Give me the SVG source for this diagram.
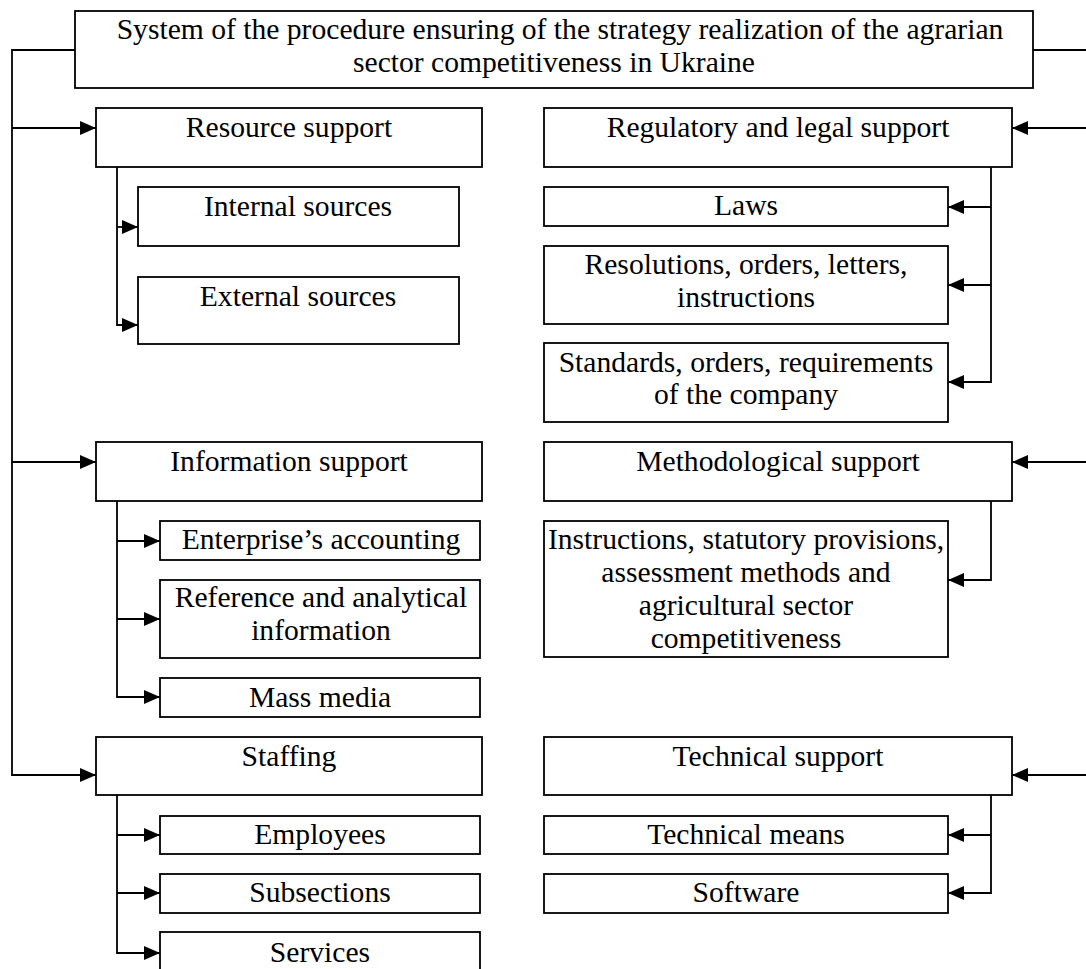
<svg xmlns="http://www.w3.org/2000/svg" width="1086" height="969" viewBox="0 0 1086 969">
<style>
.box{fill:#fff;stroke:#000;stroke-width:1.8}
.t{font-family:"Liberation Serif","Times New Roman",serif;font-size:29.6px;fill:#000;text-anchor:middle}
.c{fill:none;stroke:#000;stroke-width:1.8}
</style>
<defs>
<marker id="ah" markerUnits="userSpaceOnUse" markerWidth="17" markerHeight="15" refX="16" refY="7.5" orient="auto">
<path d="M0,0.5 L16,7.5 L0,14.5 z" fill="#000"/>
</marker>
</defs>
<rect width="1086" height="969" fill="#fff"/>
<g id="connectors">
<path class="c" d="M75,50 H12 V775 H96" marker-end="url(#ah)"/>
<path class="c" d="M12,128 H96" marker-end="url(#ah)"/>
<path class="c" d="M12,462 H96" marker-end="url(#ah)"/>
<path class="c" d="M1033,50 H1088 V775"/>
<path class="c" d="M1088,128 H1012" marker-end="url(#ah)"/>
<path class="c" d="M1088,462 H1012" marker-end="url(#ah)"/>
<path class="c" d="M1088,775 H1012" marker-end="url(#ah)"/>
<path class="c" d="M117,167 V325 H138" marker-end="url(#ah)"/>
<path class="c" d="M117,227 H138" marker-end="url(#ah)"/>
<path class="c" d="M991,167 V382 H948" marker-end="url(#ah)"/>
<path class="c" d="M991,207 H948" marker-end="url(#ah)"/>
<path class="c" d="M991,285 H948" marker-end="url(#ah)"/>
<path class="c" d="M117,501 V697 H160" marker-end="url(#ah)"/>
<path class="c" d="M117,541 H160" marker-end="url(#ah)"/>
<path class="c" d="M117,619 H160" marker-end="url(#ah)"/>
<path class="c" d="M991,501 V580 H948" marker-end="url(#ah)"/>
<path class="c" d="M117,795 V953 H160" marker-end="url(#ah)"/>
<path class="c" d="M117,835 H160" marker-end="url(#ah)"/>
<path class="c" d="M117,893 H160" marker-end="url(#ah)"/>
<path class="c" d="M991,795 V893 H948" marker-end="url(#ah)"/>
<path class="c" d="M991,835 H948" marker-end="url(#ah)"/>
</g>
<g id="top"><rect class="box" x="75" y="11" width="958" height="77"/>
<text class="t" x="560" y="39">System of the procedure ensuring of the strategy realization of the agrarian</text>
<text class="t" x="554" y="72">sector competitiveness in Ukraine</text></g>
<g id="resource"><rect class="box" x="96" y="108" width="386" height="59"/><text class="t" x="289" y="137">Resource support</text></g>
<g id="regulatory"><rect class="box" x="544" y="108" width="468" height="59"/><text class="t" x="778" y="137">Regulatory and legal support</text></g>
<g id="internal"><rect class="box" x="138" y="187" width="321" height="59"/><text class="t" x="298" y="216">Internal sources</text></g>
<g id="external"><rect class="box" x="138" y="277" width="321" height="67"/><text class="t" x="298" y="306">External sources</text></g>
<g id="laws"><rect class="box" x="544" y="187" width="404" height="39"/><text class="t" x="746" y="215">Laws</text></g>
<g id="resolutions"><rect class="box" x="544" y="246" width="404" height="78"/><text class="t" x="746" y="274">Resolutions, orders, letters,</text><text class="t" x="746" y="307">instructions</text></g>
<g id="standards"><rect class="box" x="544" y="343" width="404" height="79"/><text class="t" x="746" y="372">Standards, orders, requirements</text><text class="t" x="746" y="404">of the company</text></g>
<g id="information"><rect class="box" x="96" y="442" width="386" height="59"/><text class="t" x="289" y="471">Information support</text></g>
<g id="methodological"><rect class="box" x="544" y="442" width="468" height="59"/><text class="t" x="778" y="471">Methodological support</text></g>
<g id="enterprise"><rect class="box" x="160" y="521" width="320" height="39"/><text class="t" x="321" y="549">Enterprise’s accounting</text></g>
<g id="reference"><rect class="box" x="160" y="580" width="320" height="78"/><text class="t" x="321" y="607">Reference and analytical</text><text class="t" x="321" y="640">information</text></g>
<g id="massmedia"><rect class="box" x="160" y="678" width="320" height="39"/><text class="t" x="320" y="707">Mass media</text></g>
<g id="instructions"><rect class="box" x="544" y="521" width="404" height="136"/><text class="t" x="746" y="549">Instructions, statutory provisions,</text><text class="t" x="746" y="582">assessment methods and</text><text class="t" x="746" y="615">agricultural sector</text><text class="t" x="746" y="648">competitiveness</text></g>
<g id="staffing"><rect class="box" x="96" y="737" width="386" height="58"/><text class="t" x="289" y="766">Staffing</text></g>
<g id="technical"><rect class="box" x="544" y="737" width="468" height="58"/><text class="t" x="778" y="766">Technical support</text></g>
<g id="employees"><rect class="box" x="160" y="816" width="320" height="38"/><text class="t" x="320" y="844">Employees</text></g>
<g id="subsections"><rect class="box" x="160" y="874" width="320" height="39"/><text class="t" x="320" y="902">Subsections</text></g>
<g id="services"><rect class="box" x="160" y="932" width="320" height="50"/><text class="t" x="320" y="962">Services</text></g>
<g id="technicalmeans"><rect class="box" x="544" y="816" width="404" height="38"/><text class="t" x="746" y="844">Technical means</text></g>
<g id="software"><rect class="box" x="544" y="874" width="404" height="39"/><text class="t" x="746" y="902">Software</text></g>
</svg>
